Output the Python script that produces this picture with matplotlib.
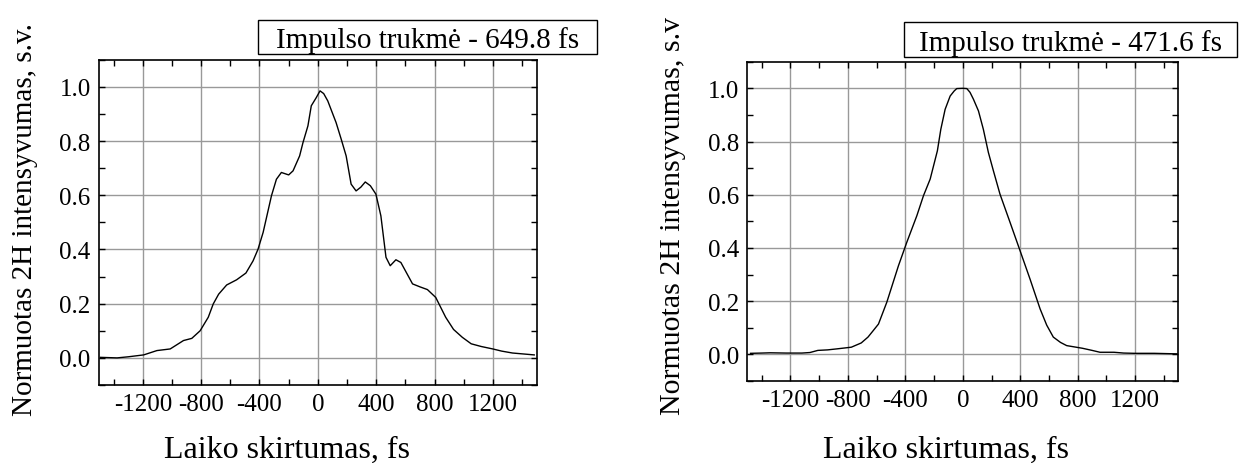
import numpy as np
import matplotlib.pyplot as plt
from matplotlib.patches import Rectangle
from matplotlib.ticker import MultipleLocator

plt.rcParams['font.family'] = ['Liberation Serif', 'DejaVu Serif']
plt.rcParams['axes.unicode_minus'] = False

# left pulse (x in fs, normalised intensity)
t_left = [-1490, -1376, -1300, -1194, -1103, -1012, -921, -864, -807, -751, -717, -680,
          -625, -557, -493, -444, -410, -375, -318, -284, -250, -200, -170, -125, -102,
          -68, -45, -11, 15, 40, 68, 125, 160, 194, 228, 262, 295, 325, 360, 398, 432, 467,
          496, 535, 569, 649, 700, 751, 808, 876, 930, 990, 1051, 1120, 1199, 1260, 1334,
          1483]
i_left = [0.002, 0.0, 0.004, 0.011, 0.027, 0.033, 0.064, 0.072, 0.100, 0.150, 0.199, 0.235,
          0.269, 0.288, 0.313, 0.358, 0.401, 0.463, 0.598, 0.659, 0.684, 0.675, 0.690, 0.745,
          0.794, 0.856, 0.930, 0.960, 0.985, 0.975, 0.948, 0.868, 0.807, 0.745, 0.641, 0.616,
          0.630, 0.649, 0.635, 0.604, 0.524, 0.371, 0.340, 0.362, 0.352, 0.273, 0.262, 0.252,
          0.223, 0.150, 0.105, 0.076, 0.052, 0.042, 0.033, 0.025, 0.018, 0.011]

# right pulse
t_right = [-1477, -1400, -1340, -1230, -1120, -1064, -1009, -940, -872, -776, -707, -660,
           -624, -587, -529, -448, -390, -320, -274, -227, -177, -153, -123, -88, -60, -42,
           0, 28, 50, 74, 109, 143, 178, 213, 259, 329, 399, 468, 538, 584, 630, 680, 723,
           833, 900, 955, 1052, 1120, 1196, 1333, 1491]
i_right = [0.004, 0.005, 0.006, 0.005, 0.005, 0.007, 0.015, 0.017, 0.021, 0.027, 0.043, 0.065,
           0.089, 0.114, 0.196, 0.333, 0.421, 0.521, 0.596, 0.659, 0.765, 0.846, 0.921, 0.971,
           0.990, 0.999, 1.000, 0.999, 0.985, 0.959, 0.915, 0.846, 0.759, 0.690, 0.602, 0.496,
           0.389, 0.283, 0.171, 0.110, 0.065, 0.045, 0.033, 0.023, 0.015, 0.008, 0.008, 0.005,
           0.004, 0.004, 0.002]

labels = ['Impulso trukmė - 649.8 fs', 'Impulso trukmė - 471.6 fs']
xlabel = 'Laiko skirtumas, fs'
ylabels = ['Normuotas 2H intensyvumas, s.v.', 'Normuotas 2H intensyvumas, s.v']

W, H = 1239, 464
fig = plt.figure(figsize=(W / 100, H / 100), dpi=100)

def px(x0, y0, x1, y1):
    # pixel box -> figure fraction [left, bottom, width, height]
    return [x0 / W, 1 - y1 / H, (x1 - x0) / W, (y1 - y0) / H]

ax1 = fig.add_axes(px(99, 60.7, 536.7, 386))
ax2 = fig.add_axes(px(747.3, 62.7, 1178.3, 382))

def style(ax):
    ax.set_xlim(-1500, 1500)
    ax.set_ylim(-0.1, 1.1)
    ax.set_xticks([-1200, -800, -400, 0, 400, 800, 1200])
    ax.set_yticks([0.0, 0.2, 0.4, 0.6, 0.8, 1.0])
    ax.set_yticklabels(['0.0', '0.2', '0.4', '0.6', '0.8', '1.0'])
    ax.xaxis.set_minor_locator(MultipleLocator(200))
    ax.yaxis.set_minor_locator(MultipleLocator(0.1))
    ax.tick_params(which='both', direction='in', top=True, right=True,
                   length=4, width=1, colors='black', labelsize=18, pad=6)
    ax.grid(True, which='major', color='0.6', linewidth=1)
    ax.set_axisbelow(True)
    for s in ax.spines.values():
        s.set_linewidth(1.2)
        s.set_color('black')

ax1.plot(t_left, i_left, color='black', linewidth=1.0)
ax2.plot(t_right, i_right, color='black', linewidth=1.0)
style(ax1)
style(ax2)

# x labels
fig.text(287 / W, 6 / H, xlabel, ha='center', va='baseline', fontsize=23)
fig.text(946 / W, 6 / H, xlabel, ha='center', va='baseline', fontsize=23)
# y labels
fig.text(25 / W, 1 - 220 / H, ylabels[0], rotation=90, ha='center', va='center', fontsize=21)
fig.text(673 / W, 1 - 415 / H, ylabels[1], rotation=90, ha='center', va='bottom', fontsize=21.5)

# boxed annotations
for (x0, y0, x1, y1), base, lab in [((258, 21, 597, 55), 48.3, labels[0]),
                                     ((904, 23, 1237, 58), 50.7, labels[1])]:
    fig.patches.append(Rectangle((x0 / W, 1 - y1 / H), (x1 - x0) / W, (y1 - y0) / H,
                                 transform=fig.transFigure, fill=False,
                                 edgecolor='black', linewidth=1))
    fig.text((x0 + x1) / 2 / W, 1 - base / H, lab, ha='center', va='baseline', fontsize=21)

fig.savefig('out.png', dpi=100)
